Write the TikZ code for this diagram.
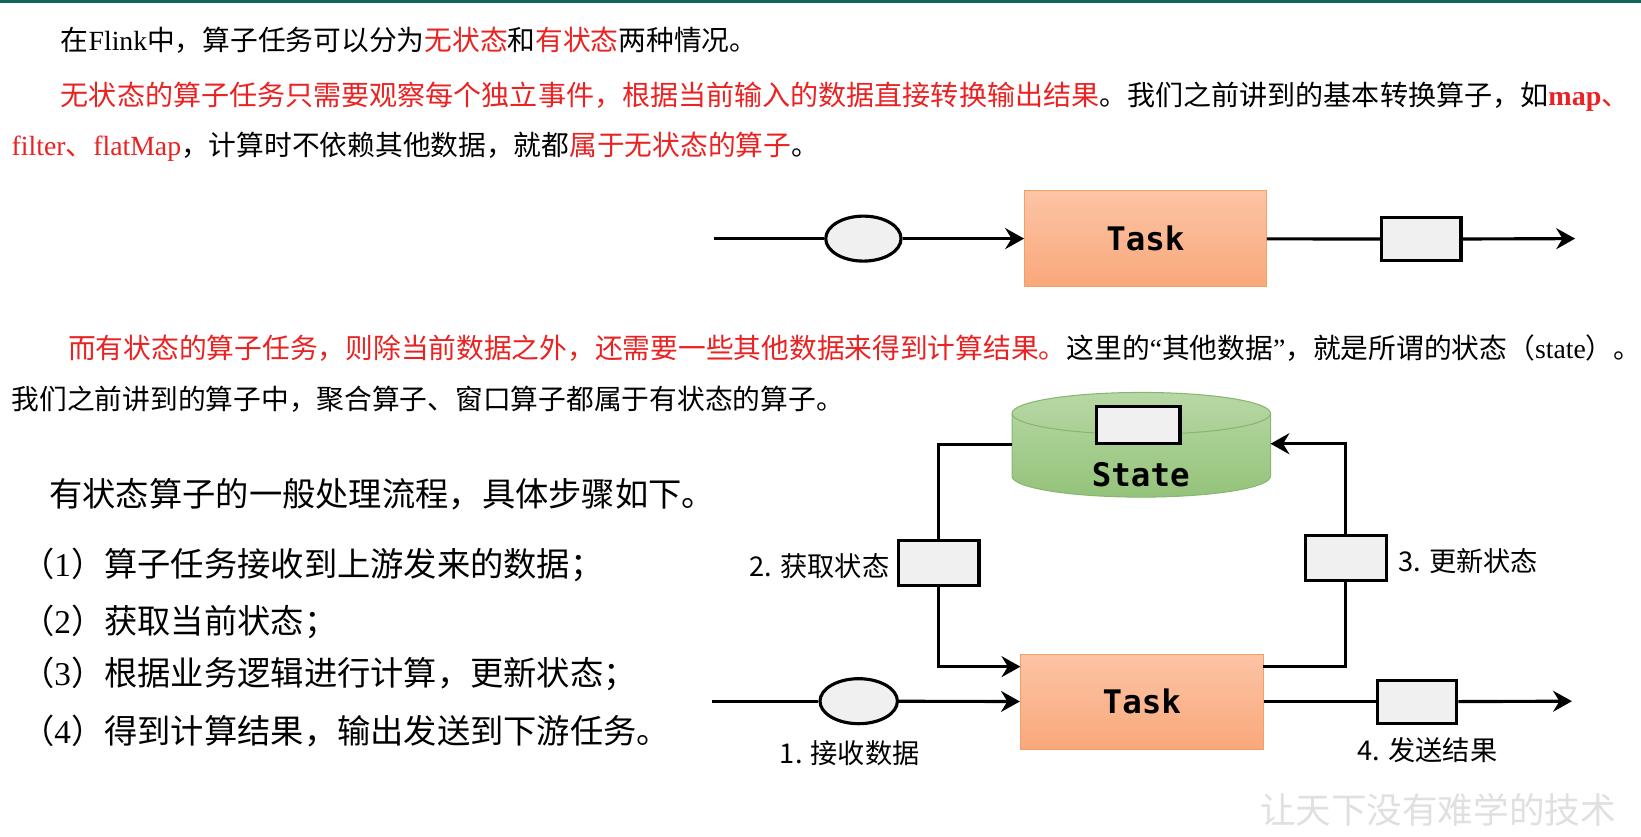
\documentclass[tikz,border=0pt]{standalone}
\usepackage{graphicx}
\usepackage{fontspec}
\setmainfont{Noto Sans CJK SC}
\newfontfamily\tm{Liberation Serif}
\newfontfamily\mono{DejaVu Sans Mono}
\newcommand\en[1]{{\tm #1}}
\usetikzlibrary{arrows.meta,shapes.geometric}
\definecolor{myred}{RGB}{234,34,34}
\definecolor{taskT}{RGB}{252,196,166}
\definecolor{taskB}{RGB}{249,168,122}
\definecolor{taskD}{RGB}{240,160,104}
\definecolor{stT}{RGB}{184,216,165}
\definecolor{stB}{RGB}{148,195,122}
\definecolor{stD}{RGB}{136,182,112}
\definecolor{boxf}{RGB}{240,240,240}
\definecolor{topline}{RGB}{20,100,88}
\tikzset{
  txt/.style={anchor=base west, inner sep=0pt, font=\fontsize{26.5}{30}\selectfont},
  listtxt/.style={anchor=base west, inner sep=0pt, font=\fontsize{31.8}{35}\selectfont},
  lbl/.style={inner sep=0pt, font=\fontsize{26}{30}\selectfont},
  flow/.style={line width=3pt, black},
  arr/.style={-{Stealth[length=18pt,width=20pt,inset=6pt]}},
  ovalnode/.style={ellipse, draw, line width=3pt, fill=boxf, minimum width=72pt, minimum height=43pt, inner sep=0pt},
  sqnode/.style={rectangle, draw, line width=3pt, fill=boxf, minimum width=76pt, minimum height=41pt, inner sep=0pt},
  tasknode/.style={rectangle, draw=taskD, line width=1pt, top color=taskT, bottom color=taskB, minimum width=231pt, minimum height=92pt, inner sep=0pt, font=\mono\bfseries\fontsize{31}{34}\selectfont},
}
\begin{document}
\begin{tikzpicture}[x=1pt,y=-1pt]
\fill[white] (0,0) rectangle (1568,799);
\useasboundingbox (0,0) rectangle (1568,799);
\fill[topline] (0,0) rectangle (1568,3);

% paragraph text
\node[txt] (p1) at (58,48) {在\en{Flink}中，算子任务可以分为\textcolor{myred}{无状态}和\textcolor{myred}{有状态}两种情况。};
\node[txt] (p2) at (58,101) {\scalebox{1.012}[1]{\textcolor{myred}{无状态的算子任务只需要观察每个独立事件，根据当前输入的数据直接转换输出结果}。我们之前讲到的基本转换算子，如\textcolor{myred}{\en{\bfseries map}、}}};
\node[txt] (p3) at (11,149) {\textcolor{myred}{\en{filter}、\en{flatMap}}，计算时不依赖其他数据，就都\textcolor{myred}{属于无状态的算子}。};
\node[txt] (p4) at (65,343) {\textcolor{myred}{而有状态的算子任务，则除当前数据之外，还需要一些其他数据来得到计算结果。}这里的\en{“}其他数据\en{”}，就是所谓的状态（\en{state}）。};
\node[txt] (p5) at (11,391) {我们之前讲到的算子中，聚合算子、窗口算子都属于有状态的算子。};

\node[listtxt] (h) at (47,484) {有状态算子的一般处理流程，具体步骤如下。};
\node[listtxt] (i1) at (20,551) {（\en{1}）算子任务接收到上游发来的数据；};
\node[listtxt] (i2) at (20,605) {（\en{2}）获取当前状态；};
\node[listtxt] (i3) at (20,655) {（\en{3}）根据业务逻辑进行计算，更新状态；};
\node[listtxt] (i4) at (20,710) {（\en{4}）得到计算结果，输出发送到下游任务。};

% top (stateless) diagram
\coordinate (s1) at (682,228);
\node[ovalnode] (e1) at (825,228) {};
\node[tasknode] (t1) at (1094.5,228) {Task};
\node[sqnode] (q1) at (1358,228.5) {};
\coordinate (o1) at (1505,228);
\draw[flow] (s1) -- (e1);
\draw[flow,arr] (e1) -- (t1);
\draw[flow] (t1) -- (q1);
\draw[flow,arr] (q1) -- (o1);

% bottom (stateful) diagram
\path[top color=stT, bottom color=stB, draw=stD, line width=1pt]
  (967,395) -- (967,455) arc[start angle=180, end angle=360, x radius=123.5pt, y radius=20pt]
  -- (1214,395) arc[start angle=0, end angle=180, x radius=123.5pt, y radius=20pt] -- cycle;
\draw[stD, line width=1pt] (967,395) arc[start angle=180, end angle=360, x radius=123.5pt, y radius=20pt];
\node[sqnode, minimum width=80pt, minimum height=35pt] (sb) at (1087.5,406) {};
\node[inner sep=0pt, font=\mono\bfseries\fontsize{31}{34}\selectfont] (stt) at (1090,454) {State};
\coordinate (cl) at (967,425);
\coordinate (cr) at (1214,424);

\node[tasknode, minimum width=232pt, minimum height=91pt] (t2) at (1091,670.5) {Task};
\coordinate (s2) at (680,670);
\node[ovalnode, minimum width=74pt] (e2) at (820.5,670) {};
\node[sqnode] (q2) at (1354,670.5) {};
\coordinate (o2) at (1502,670);
\draw[flow] (s2) -- (e2);
\draw[flow,arr] (e2) -- (t2);
\draw[flow] (t2) -- (q2);
\draw[flow,arr] (q2) -- (o2);

\node[sqnode, minimum width=77pt, minimum height=43pt] (g) at (897,538) {};
\coordinate (tin) at (975,637);
\draw[flow] (cl) -| (g.north);
\draw[flow,arr] (g.south) |- (tin);

\node[sqnode, minimum width=77pt, minimum height=43pt] (u) at (1286,533) {};
\coordinate (tout) at (1207,637);
\draw[flow] (tout) -| (u.south);
\draw[flow,arr] (u.north) |- (cr);

\node[lbl, anchor=east] (l2) at (850,541) {2. 获取状态};
\node[lbl, anchor=west] (l3) at (1336,536) {3. 更新状态};
\node[lbl] (l1) at (812,720) {1. 接收数据};
\node[lbl] (l4) at (1364,717) {4. 发送结果};

\node[inner sep=0pt, font=\fontsize{34}{36}\selectfont, text=black!12] (wm) at (1374,774) {让天下没有难学的技术};
\end{tikzpicture}
\end{document}
